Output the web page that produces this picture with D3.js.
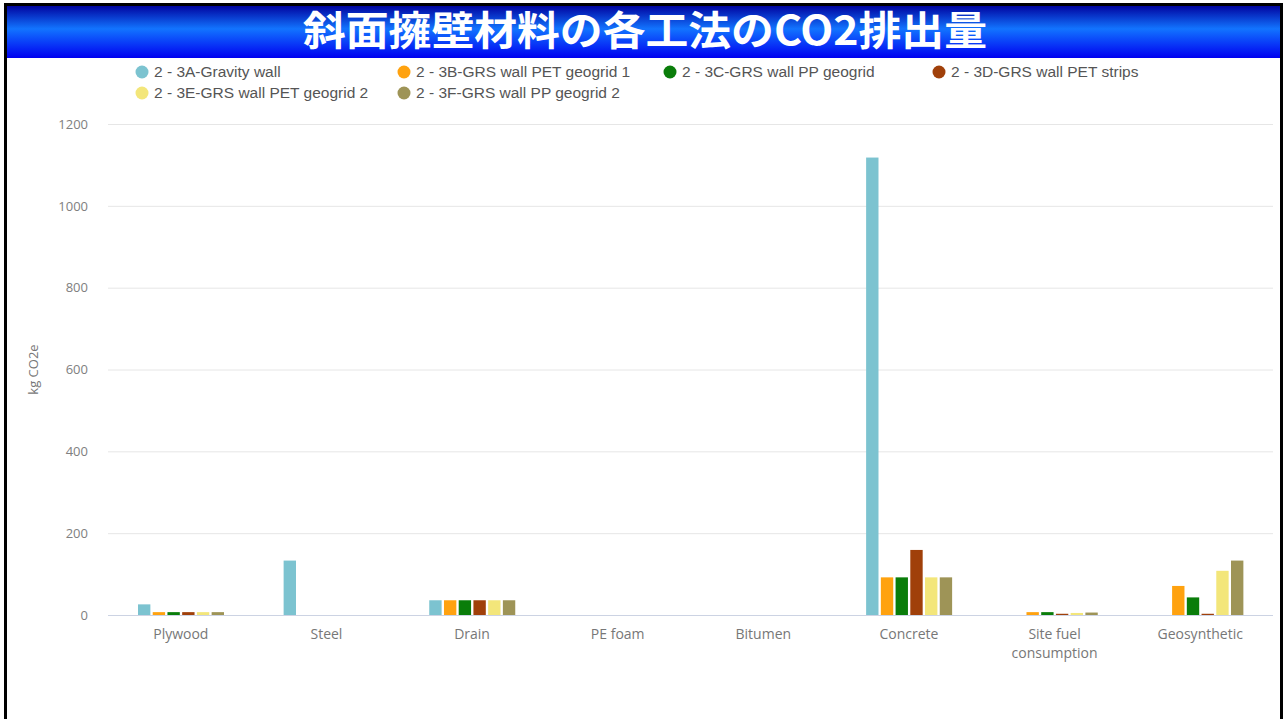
<!DOCTYPE html>
<html>
<head>
<meta charset="utf-8">
<script src="https://cdn.jsdelivr.net/npm/d3@7"></script>
<style>
  html, body { margin: 0; padding: 0; background: #fff; }
  svg { display: block; }
</style>
</head>
<body>
<svg id="chart" width="1284" height="719"></svg>
<script>
// Embodied CO2 per material for each retaining-wall method (kg CO2e)
const categories = ["Plywood", "Steel", "Drain", "PE foam", "Bitumen", "Concrete", "Site fuel\nconsumption", "Geosynthetic"];
const seriesNames = [
  "2 - 3A-Gravity wall",
  "2 - 3B-GRS wall PET geogrid 1",
  "2 - 3C-GRS wall PP geogrid",
  "2 - 3D-GRS wall PET strips",
  "2 - 3E-GRS wall PET geogrid 2",
  "2 - 3F-GRS wall PP geogrid 2"
];
const seriesColors = ["#7cc3d0", "#ffa20f", "#0a7d0a", "#a0400a", "#f3e67a", "#9e9457"];
const gravityWall   = [26, 133, 36, 0, 0, 1118, 0, 0];
const petGeogrid1   = [7, 0, 36, 0, 0, 92, 7, 71];
const ppGeogrid     = [7, 0, 36, 0, 0, 92, 7, 43];
const petStrips     = [7, 0, 36, 0, 0, 159, 3, 3];
const petGeogrid2   = [7, 0, 36, 0, 0, 92, 5, 108];
const ppGeogrid2    = [7, 0, 36, 0, 0, 92, 6, 133];
const seriesValues = [gravityWall, petGeogrid1, ppGeogrid, petStrips, petGeogrid2, ppGeogrid2];
const yTicks = [0, 200, 400, 600, 800, 1000, 1200];
const titleText = "斜面擁壁材料の各工法のCO2排出量";
const yAxisTitle = "kg CO2e";

const svg = d3.select("#chart");
const W = 1284, H = 719;

// Title banner with vertical blue gradient
const defs = svg.append("defs");
const grad = defs.append("linearGradient").attr("id", "banner").attr("x1", 0).attr("y1", 0).attr("x2", 0).attr("y2", 1);
grad.append("stop").attr("offset", "0%").attr("stop-color", "#00009c");
grad.append("stop").attr("offset", "45%").attr("stop-color", "#1274ff");
grad.append("stop").attr("offset", "100%").attr("stop-color", "#0000f0");

svg.append("rect").attr("x", 0).attr("y", 0).attr("width", W).attr("height", H).attr("fill", "#fff");
svg.append("rect").attr("x", 4).attr("y", 5).attr("width", 1278).attr("height", 53).attr("fill", "url(#banner)");
svg.append("text")
  .attr("x", 645).attr("y", 45)
  .attr("text-anchor", "middle")
  .attr("textLength", 684).attr("lengthAdjust", "spacingAndGlyphs")
  .attr("font-family", "'Noto Sans CJK JP', sans-serif")
  .attr("font-weight", "bold")
  .attr("font-size", 40)
  .attr("fill", "#fff")
  .text(titleText);

// Frame around the slide
svg.append("rect").attr("x", 5.5).attr("y", 4.5).attr("width", 1276).attr("height", 720)
  .attr("fill", "none").attr("stroke", "#000").attr("stroke-width", 3);

// Scales
const plot = { left: 108, right: 1273, top: 124, bottom: 615 };
const y = d3.scaleLinear().domain([0, 1200]).range([plot.bottom, plot.top]);
const x0 = d3.scaleBand().domain(categories).range([plot.left, plot.right]).padding(0);
const x1 = d3.scaleBand().domain(seriesNames).range([30, 116]).paddingInner(0.16).paddingOuter(0);

// Gridlines via axis
const gridAxis = d3.axisLeft(y).tickValues(yTicks).tickSize(-(plot.right - plot.left)).tickFormat("");
const grid = svg.append("g").attr("transform", `translate(${plot.left},0)`).call(gridAxis);
grid.select(".domain").remove();
grid.selectAll(".tick line").attr("stroke", "#e6e6e6").attr("stroke-width", 1);
grid.selectAll(".tick").filter(d => d === 0).select("line").attr("stroke", "#ccd3e3");

// Y-axis labels
const yAxis = d3.axisLeft(y).tickValues(yTicks).tickSize(0).tickPadding(20).tickFormat(d3.format("d"));
const ya = svg.append("g").attr("transform", `translate(${plot.left},0)`).call(yAxis);
ya.select(".domain").remove();
ya.selectAll("text")
  .attr("font-family", "'Open Sans', sans-serif")
  .attr("font-size", 13)
  .attr("fill", "#808080");

svg.append("text")
  .attr("transform", `translate(38,${(plot.top + plot.bottom) / 2}) rotate(-90)`)
  .attr("text-anchor", "middle")
  .attr("font-family", "'Open Sans', sans-serif")
  .attr("font-size", 13)
  .attr("fill", "#777")
  .text(yAxisTitle);

// X-axis labels
const xAxis = d3.axisBottom(x0).tickSize(0).tickPadding(0).tickFormat("");
const xa = svg.append("g").attr("transform", `translate(0,${plot.bottom})`).call(xAxis);
xa.select(".domain").remove();
xa.selectAll(".tick").each(function (d) {
  const lines = d.split("\n");
  const t = d3.select(this).append("text")
    .attr("text-anchor", "middle")
    .attr("font-family", "'Open Sans', sans-serif")
    .attr("font-size", 14)
    .attr("fill", "#777");
  lines.forEach((ln, i) => t.append("tspan").attr("x", 0).attr("y", 24 + i * 19).text(ln));
});

// Bars
const groups = svg.append("g").selectAll("g")
  .data(categories)
  .join("g")
  .attr("transform", d => `translate(${x0(d)},0)`);

groups.selectAll("rect")
  .data((c, ci) => seriesNames.map((s, si) => ({ s, si, v: seriesValues[si][ci] })))
  .join("rect")
  .filter(d => d.v > 0)
  .attr("x", d => x1(d.s))
  .attr("width", x1.bandwidth())
  .attr("y", d => y(d.v))
  .attr("height", d => y(0) - y(d.v))
  .attr("fill", d => seriesColors[d.si]);

// Legend
const legendPos = [[142, 72], [404, 72], [670, 72], [939, 72], [142, 93], [404, 93]];
const legend = svg.append("g").selectAll("g")
  .data(seriesNames)
  .join("g")
  .attr("transform", (d, i) => `translate(${legendPos[i][0]},${legendPos[i][1]})`);
legend.append("circle").attr("r", 6.5).attr("fill", (d, i) => seriesColors[i]);
legend.append("text")
  .attr("x", 12).attr("y", 5)
  .attr("font-family", "'Liberation Sans', Arial, sans-serif")
  .attr("font-size", 15.5)
  .attr("fill", "#555")
  .text(d => d);
</script>
</body>
</html>
